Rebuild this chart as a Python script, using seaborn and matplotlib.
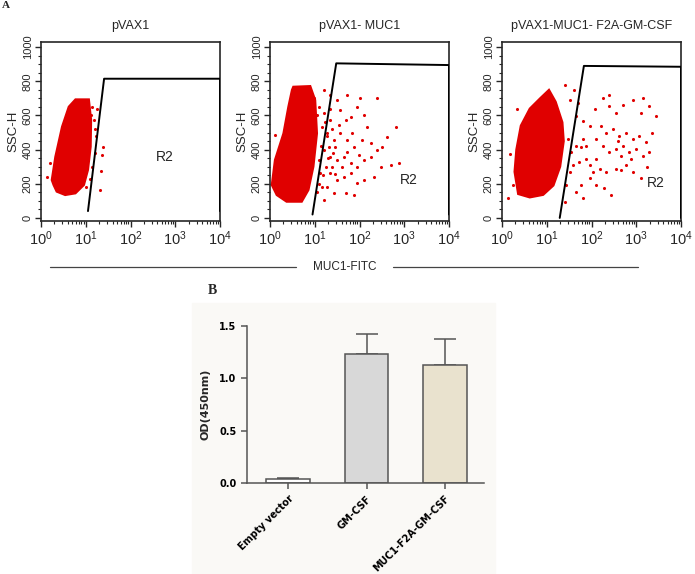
import numpy as np
import pandas as pd
import matplotlib
matplotlib.use("Agg")
import matplotlib.pyplot as plt
from matplotlib.lines import Line2D
from matplotlib.patches import Rectangle
import matplotlib.ticker as mticker
import seaborn as sns

# ---- panel A : flow cytometry (log10 MUC1-FITC, SSC-H) ----
panel_titles = ["pVAX1", "pVAX1- MUC1", "pVAX1-MUC1- F2A-GM-CSF"]

# dense cell cloud outlines
blob1_log = [0.24, 0.32, 0.47, 0.62, 0.77, 1.07, 1.12, 1.11, 1.05, 0.96, 0.77, 0.54, 0.35, 0.28]
blob1_ssc = [222, 358, 534, 651, 694, 694, 573, 417, 281, 193, 144, 134, 154, 193]
blob2_log = [0.52, 0.90, 1.01, 1.05, 0.97, 0.86, 0.71, 0.37, 0.15, 0.04, 0.11, 0.30, 0.41, 0.49]
blob2_ssc = [768, 772, 690, 495, 300, 164, 95, 95, 134, 193, 339, 495, 651, 749]
blob3_log = [0.85, 1.05, 1.20, 1.35, 1.38, 1.30, 1.15, 0.92, 0.62, 0.36, 0.28, 0.32, 0.42, 0.62]
blob3_ssc = [700, 750, 680, 560, 450, 300, 190, 135, 120, 140, 270, 400, 540, 640]

# scattered events
pts1_log = [0.13, 0.19, 1.18, 1.22, 1.26, 1.33, 1.32, 1.37, 1.39, 1.15, 1.20, 1.15, 1.10, 1.20, 1.12, 1.00]
pts1_ssc = [242, 320, 573, 480, 640, 277, 163, 368, 415, 650, 520, 300, 230, 380, 600, 180]

pts2_log = [0.11, 1.20, 1.35, 1.50, 1.72, 2.02, 2.40, 1.95, 1.20, 1.35, 1.57, 1.80, 2.10, 1.27,
            1.42, 1.57, 1.72, 1.87, 2.06, 2.25, 2.40, 2.81, 2.62, 1.20, 1.35, 1.50, 1.65, 1.80,
            1.95, 2.10, 2.25, 2.47, 2.70, 2.88, 1.35, 1.50, 1.65, 1.80, 1.95, 2.10, 1.27, 1.42,
            1.69, 1.87, 1.20, 1.09, 1.12, 1.16, 2.51, 2.17, 2.32, 1.72, 1.61, 1.46, 1.84, 1.99,
            1.39, 1.31, 1.69, 1.54, 1.16, 1.05, 1.10, 1.15, 1.25, 1.10, 1.30, 1.22, 1.05, 0.98,
            1.28, 1.18, 1.33, 1.40, 1.45, 1.38]
pts2_ssc = [485, 749, 719, 690, 719, 700, 700, 651, 612, 573, 632, 593, 602, 495,
            456, 495, 456, 417, 456, 437, 398, 534, 476, 398, 359, 339, 359, 320,
            300, 339, 359, 300, 310, 320, 261, 222, 242, 261, 203, 222, 183, 144,
            144, 134, 105, 339, 261, 183, 417, 534, 242, 388, 300, 417, 495, 368,
            300, 417, 573, 544, 534, 600, 650, 420, 300, 200, 350, 560, 150, 700,
            480, 250, 640, 380, 260, 520]

pts3_log = [0.18, 0.14, 0.25, 0.33, 1.40, 1.62, 1.51, 1.66, 1.81, 1.88, 1.66, 1.55, 1.73, 1.96,
            2.10, 2.25, 2.40, 2.40, 2.55, 2.70, 2.92, 3.14, 3.29, 3.44, 3.10, 2.21, 2.33, 2.47,
            2.62, 2.77, 2.92, 3.07, 3.21, 3.36, 2.10, 2.25, 2.40, 2.55, 2.70, 2.84, 2.99, 3.14,
            3.29, 2.18, 2.33, 2.55, 2.66, 2.77, 2.92, 3.10, 1.96, 2.10, 2.29, 1.77, 1.66, 1.81,
            2.44, 2.03, 1.88, 1.77, 1.96, 2.07, 1.81, 1.70, 2.66, 2.88, 2.59, 3.25, 1.51, 1.44,
            1.40, 1.59, 1.47]
pts3_ssc = [375, 115, 192, 635, 779, 750, 692, 596, 462, 423, 423, 385, 327, 308,
            346, 702, 721, 654, 615, 663, 692, 702, 654, 596, 615, 538, 500, 519,
            481, 500, 462, 481, 442, 500, 462, 423, 385, 404, 423, 385, 404, 365,
            385, 288, 269, 288, 279, 308, 269, 231, 231, 192, 173, 192, 154, 115,
            135, 269, 346, 413, 538, 635, 567, 673, 365, 346, 452, 298, 269, 192,
            96, 308, 462]

# R2 gates (log10 FITC, SSC)
gate1_log = [1.05, 1.41, 4.0, 4.0]
gate1_ssc = [40, 815, 815, 40]
gate2_log = [0.95, 1.48, 4.0, 4.0]
gate2_ssc = [20, 905, 895, 20]
gate3_log = [1.29, 1.83, 4.0, 4.0]
gate3_ssc = [0, 890, 885, 0]
r2_log = [2.76, 3.10, 3.44]
r2_ssc = [358, 222, 206]

# ---- panel B : ELISA ----
groups = ["Empty vector", "GM-CSF", "MUC1-F2A-GM-CSF"]
od_mean = [0.038, 1.233, 1.131]
od_err = [0.012, 0.187, 0.242]
bar_colors = ["#ffffff", "#d8d8d8", "#ede4c9"]

sns.set_style("ticks")
plt.rcParams["font.family"] = ["Liberation Sans", "DejaVu Sans"]
plt.rcParams["mathtext.fontset"] = "custom"
plt.rcParams["mathtext.rm"] = "Liberation Sans"
plt.rcParams["mathtext.it"] = "Liberation Sans"
bold_font = ["DejaVu Sans"]

W, H = 695, 574
fig = plt.figure(figsize=(W / 100, H / 100), dpi=100)


def px_rect(left, top, width, height):
    return [left / W, 1 - (top + height) / H, width / W, height / H]


red = "#e00000"
flow = [
    (blob1_log, blob1_ssc, pts1_log, pts1_ssc, gate1_log, gate1_ssc),
    (blob2_log, blob2_ssc, pts2_log, pts2_ssc, gate2_log, gate2_ssc),
    (blob3_log, blob3_ssc, pts3_log, pts3_ssc, gate3_log, gate3_ssc),
]
lefts = [41, 270, 502]
for i, (bl, bs, pl, ps, gl, gs) in enumerate(flow):
    ax = fig.add_axes(px_rect(lefts[i], 42, 179, 179))
    ax.fill(10 ** np.array(bl), bs, color=red, lw=1.5, ec=red, zorder=2)
    sns.scatterplot(x=10 ** np.array(pl), y=ps, ax=ax, color=red, s=5,
                    linewidth=0, marker="o", zorder=3)
    gx = 10 ** np.array(gl)
    ax.plot(gx, gs, color="black", lw=1.4, zorder=4)
    ax.text(10 ** r2_log[i], r2_ssc[i], "R2", fontsize=10, ha="center", va="center", zorder=5)
    ax.set_xscale("log")
    ax.set_xlim(1, 1e4)
    ax.set_ylim(-18, 1030)
    ax.set_yticks([0, 200, 400, 600, 800, 1000])
    ax.yaxis.set_minor_locator(mticker.MultipleLocator(50))
    ax.xaxis.set_major_locator(mticker.LogLocator(base=10, numticks=10))
    ax.xaxis.set_minor_locator(mticker.LogLocator(base=10, subs=np.arange(2, 10), numticks=10))
    ax.xaxis.set_minor_formatter(mticker.NullFormatter())
    for lab in ax.get_yticklabels():
        lab.set_rotation(90)
        lab.set_va("center")
    ax.tick_params(axis="y", labelsize=8, length=4, width=1, pad=2)
    ax.tick_params(axis="x", labelsize=10.5, length=4, width=1, pad=2)
    ax.tick_params(which="minor", length=2.5, width=0.8)
    for sp in ax.spines.values():
        sp.set_linewidth(1.2)
    ax.set_ylabel("SSC-H", fontsize=9.5, labelpad=2)
    ax.set_xlabel("")
    ax.set_title(panel_titles[i], fontsize=9, pad=9)

# common x label with rules either side
fig.text(345 / W, 1 - 267 / H, "MUC1-FITC", fontsize=8.5, ha="center", va="center")
fig.add_artist(Line2D([50 / W, 296 / W], [1 - 267 / H] * 2, color="#444444", lw=0.9))
fig.add_artist(Line2D([393 / W, 638 / W], [1 - 267 / H] * 2, color="#444444", lw=0.9))
fig.text(2 / W, 1 - 1 / H, "A", fontsize=8, fontweight="bold", family="Liberation Serif",
         ha="left", va="top")

# ---- panel B ----
fig.add_artist(Rectangle((192 / W, 0), (495 - 192) / W, 1 - 303 / H,
                         transform=fig.transFigure, color="#faf9f6", zorder=0))
fig.text(212 / W, 1 - 290 / H, "B", fontsize=10, fontweight="bold",
         family="Liberation Serif", ha="center", va="center")

df = pd.DataFrame({"group": groups, "od": od_mean})
axb = fig.add_axes(px_rect(246.7, 326, 237.3, 157.3))
axb.set_facecolor("none")
sns.barplot(data=df, x="group", y="od", hue="group", palette=dict(zip(groups, bar_colors)),
            width=0.56, edgecolor="#555555", linewidth=1.1, errorbar=None, legend=False,
            ax=axb, zorder=2)
axb.errorbar(range(len(groups)), od_mean, yerr=[[0] * 3, od_err], fmt="none",
             ecolor="#555555", elinewidth=1.1, capsize=8, capthick=1.1, zorder=1)
axb.set_xlim(-0.53, 2.5)
axb.set_ylim(0, 1.5)
axb.set_yticks([0, 0.5, 1.0, 1.5])
axb.yaxis.set_major_formatter(mticker.FormatStrFormatter("%.1f"))
sns.despine(ax=axb)
for sp in ["left", "bottom"]:
    axb.spines[sp].set_color("#555555")
    axb.spines[sp].set_linewidth(1.1)
axb.tick_params(colors="#555555", length=4, width=1.1, labelcolor="black")
axb.tick_params(axis="y", labelsize=7)
axb.tick_params(axis="x", labelsize=7)
for lab in axb.get_yticklabels():
    lab.set_fontweight("bold")
    lab.set_family(bold_font)
for lab in axb.get_xticklabels():
    lab.set_fontweight("bold")
    lab.set_family(bold_font)
    lab.set_rotation(45)
    lab.set_ha("right")
    lab.set_rotation_mode("anchor")
axb.set_xlabel("")
axb.set_ylabel("OD(450nm)", fontsize=8, fontweight="bold", family=bold_font, labelpad=6)

fig.savefig("out.png", dpi=100)
